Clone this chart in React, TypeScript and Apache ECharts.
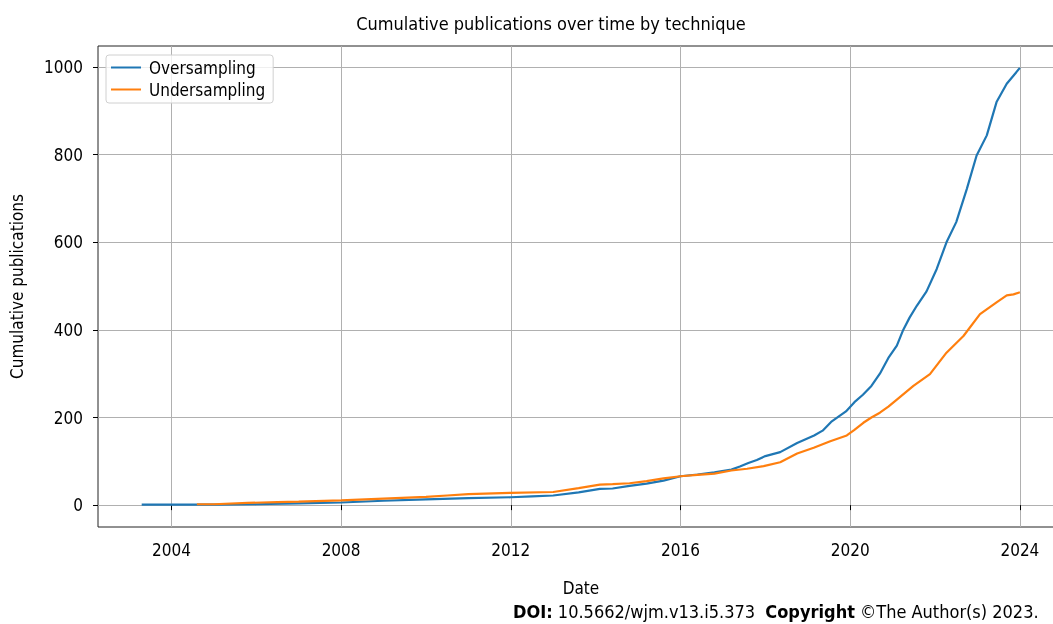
import React, { useEffect, useRef } from "react";
import * as echarts from "echarts";

const overDates = [2003.3, 2004, 2005, 2006, 2007, 2008, 2009, 2010, 2011, 2012, 2012.5, 2013, 2013.6, 2014.1, 2014.4, 2014.8, 2015.2, 2015.6, 2016, 2016.4, 2016.8, 2017.2, 2017.4, 2017.6, 2017.8, 2018, 2018.35, 2018.75, 2019.15, 2019.35, 2019.55, 2019.9, 2020.1, 2020.3, 2020.5, 2020.7, 2020.9, 2021.1, 2021.25, 2021.4, 2021.57, 2021.8, 2022.04, 2022.27, 2022.5, 2022.75, 2022.98, 2023.22, 2023.45, 2023.69, 2024];
const overValues = [1, 1, 1, 2, 4, 6, 10, 13, 16, 18, 20, 22, 29, 37, 38, 44, 49, 56, 66, 70, 75, 81, 88, 96, 103, 112, 121, 142, 159, 170, 190, 214, 235, 252, 272, 300, 336, 364, 400, 428, 455, 488, 539, 600, 646, 722, 798, 844, 920, 962, 998];

const underDates = [2004.6, 2005, 2005.8, 2006.5, 2007, 2008, 2009, 2010, 2010.5, 2011, 2012, 2013, 2013.6, 2014.1, 2014.4, 2014.8, 2015.2, 2015.6, 2016, 2016.4, 2016.8, 2017.2, 2017.57, 2017.96, 2018.35, 2018.75, 2019.14, 2019.53, 2019.92, 2020.1, 2020.31, 2020.5, 2020.7, 2020.9, 2021.1, 2021.49, 2021.88, 2022.27, 2022.67, 2023.06, 2023.45, 2023.69, 2023.85, 2024];
const underValues = [2, 2, 5, 7, 8, 11, 15, 19, 22, 25, 28, 30, 39, 47, 48, 50, 55, 61, 66, 69, 72, 79, 83, 89, 98, 118, 131, 146, 159, 172, 188, 200, 211, 225, 241, 272, 299, 348, 386, 436, 463, 479, 481, 486];

const xTicks = [2004, 2008, 2012, 2016, 2020, 2024];
const yTicks = [0, 200, 400, 600, 800, 1000];
const seriesNames = ["Oversampling", "Undersampling"];

const FONT = "'DejaVu Sans Condensed', 'DejaVu Sans', sans-serif";

export default function App() {
  const ref = useRef<HTMLDivElement>(null);
  useEffect(() => {
    if (!ref.current) return;
    const chart = echarts.init(ref.current, null, { renderer: "svg" });
    const over = overDates.map((d, i) => [d, overValues[i]]);
    const under = underDates.map((d, i) => [d, underValues[i]]);
    chart.setOption({
      animation: false,
      textStyle: { fontFamily: FONT },
      grid: {
        left: 98,
        top: 46,
        right: -11,
        bottom: 97,
        show: true,
        borderColor: "#222",
        borderWidth: 1,
        backgroundColor: "transparent",
        outerBoundsMode: "none",
      },
      legend: {
        left: 106,
        top: 55,
        orient: "vertical",
        icon: "rect",
        itemWidth: 30,
        itemHeight: 2,
        itemGap: 5,
        padding: [4, 8, 5, 5],
        borderColor: "#d0d0d0",
        borderWidth: 1,
        borderRadius: 3,
        backgroundColor: "rgba(255,255,255,0.8)",
        textStyle: { fontFamily: FONT, fontSize: 17, color: "#000", padding: [0, 0, 0, 3] },
        data: seriesNames,
      },
      xAxis: {
        type: "value",
        min: 2002.27,
        max: 2025.04,
        name: "Date",
        nameLocation: "middle",
        nameGap: 52,
        nameTextStyle: { fontFamily: FONT, fontSize: 17, color: "#000" },
        axisLine: { show: false },
        axisTick: { show: true, length: 5, lineStyle: { color: "#000" }, customValues: xTicks },
        axisLabel: { margin: 14, fontSize: 17, color: "#000", fontFamily: FONT, customValues: xTicks, formatter: (v: number) => String(v) },
        splitLine: { show: true, lineStyle: { color: "#b0b0b0", width: 1 } },
      },
      yAxis: {
        type: "value",
        min: -49.9,
        max: 1048,
        name: "Cumulative publications",
        nameLocation: "middle",
        nameGap: 73,
        nameTextStyle: { fontFamily: FONT, fontSize: 17, color: "#000" },
        axisLine: { show: false },
        axisTick: { show: true, length: 5, lineStyle: { color: "#000" }, customValues: yTicks },
        axisLabel: { margin: 15, fontSize: 17, color: "#000", fontFamily: FONT, customValues: yTicks, formatter: (v: number) => String(v) },
        splitLine: { show: true, lineStyle: { color: "#b0b0b0", width: 1 } },
      },
      graphic: [
        {
          type: "text",
          x: 551,
          y: 23,
          style: {
            text: "Cumulative publications over time by technique",
            fontFamily: FONT,
            fontSize: 18,
            fill: "#000",
            align: "center",
            verticalAlign: "middle",
          },
        },
        {
          type: "text",
          x: 513,
          y: 611,
          style: {
            text: "{b|DOI:} 10.5662/wjm.v13.i5.373  {b|Copyright} ©The Author(s) 2023.",
            fontFamily: FONT,
            fontSize: 18,
            fill: "#000",
            align: "left",
            verticalAlign: "middle",
            rich: { b: { fontWeight: "bold", fontFamily: FONT, fontSize: 18, fill: "#000" } },
          },
        },
      ],
      series: [
        {
          name: seriesNames[0],
          type: "line",
          data: over,
          showSymbol: false,
          lineStyle: { color: "#1f77b4", width: 2.2 },
          itemStyle: { color: "#1f77b4" },
        },
        {
          name: seriesNames[1],
          type: "line",
          data: under,
          showSymbol: false,
          lineStyle: { color: "#ff7f0e", width: 2.2 },
          itemStyle: { color: "#ff7f0e" },
        },
      ],
    });
    return () => chart.dispose();
  }, []);
  return <div ref={ref} style={{ position: "fixed", left: 0, top: 0, width: 1053, height: 624 }} />;
}
